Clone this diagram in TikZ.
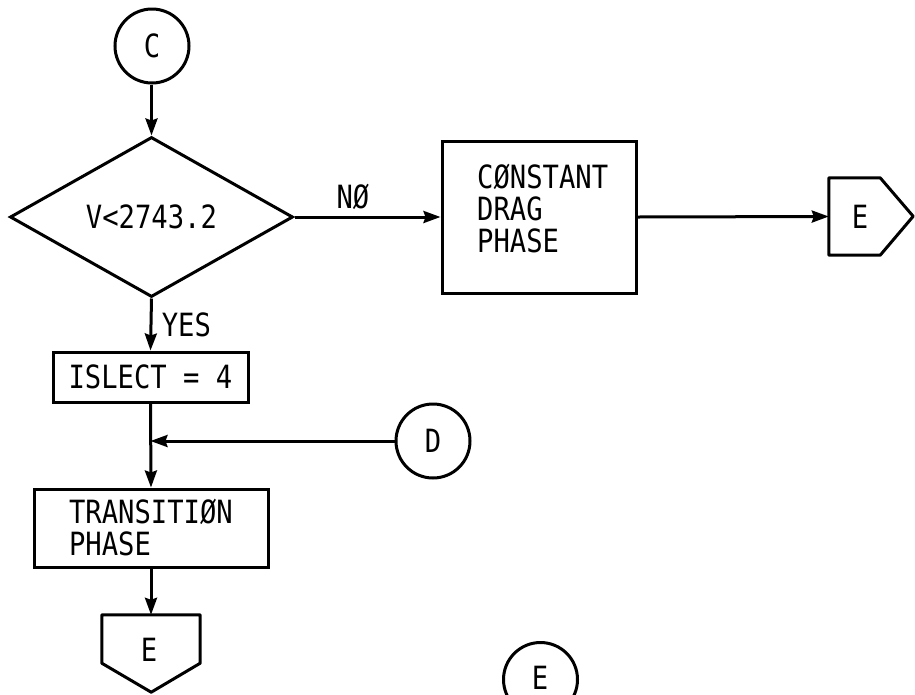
\documentclass[tikz,border=0pt]{standalone}
\usepackage{fontspec}
\setmainfont{DejaVu Sans Mono}[FakeStretch=0.85]
\usetikzlibrary{shapes.geometric,arrows.meta}
\begin{document}
\begin{tikzpicture}[x=1pt,y=-1pt,
  every node/.style={font=\fontsize{32}{32}\selectfont},
  line/.style={line width=3pt},
  arr/.style={line width=3pt,-{Stealth[length=17pt,width=12pt,inset=2pt]}},
  conn/.style={circle,draw,line width=3pt,minimum size=74pt,inner sep=0pt},
  procbox/.style={rectangle,draw,line width=3pt,inner sep=0pt,align=left},
  offpage/.style={rectangle,inner sep=0pt}
]
\useasboundingbox (0,0) rectangle (915,694);
% nodes
\node[conn] (C) at (152,46) {C};
\node[diamond,draw,line width=3pt,minimum width=283pt,minimum height=160pt,aspect=1.77,inner sep=0pt] (dec) at (151.5,217) {V<2743.2};
\node[procbox,minimum width=194pt,minimum height=152pt] (cdp) at (539,217) {};
\node[inner sep=0pt,align=left,anchor=north west] (cdpt) at (477,164) {CØNSTANT\\DRAG\\PHASE};
\node[offpage,minimum width=51pt,minimum height=77pt] (E1) at (854.5,216.5) {};
\node at (860,217) {E};
\node[procbox,minimum width=195pt,minimum height=50pt] (isl) at (150.5,377) {ISLECT = 4};
\node[conn] (D) at (433,441) {D};
\node[procbox,minimum width=234pt,minimum height=78pt] (tr) at (151,528) {TRANSITIØN\\PHASE};
\node[offpage,minimum width=98pt,minimum height=48pt] (E2) at (151,639) {};
\node at (149,650) {E};
\node[conn] (E3) at (540.5,679.5) {};
\node[inner sep=0pt] (E3t) at (540,678) {E};
% off-page connector outlines
\draw[line,line join=round] (E1.north west) -- (E1.north east) -- ++(33,38.5) -- (E1.south east) -- (E1.south west) -- cycle;
\draw[line,line join=round] (E2.north west) -- (E2.north east) -- (E2.south east) -- ++(-49,29) -- (E2.south west) -- cycle;
% connectors
\draw[arr] (C.south -| dec.north) -- (dec.north);
\draw[arr] (dec.east) -- node[above=3pt,pos=0.4] (no) {NØ} (cdp.west);
\draw[arr] (cdp.east) -- (E1.west);
\draw[arr] (dec.south) -- node[right=6pt,pos=0.5] (yes) {YES} (isl.north);
\draw[arr] (isl.south) -- (tr.north);
\coordinate (j) at (isl.south |- D.west);
\draw[arr] (D.west) -- (j);
\draw[arr] (tr.south) -- (E2.north);
\end{tikzpicture}
\end{document}
